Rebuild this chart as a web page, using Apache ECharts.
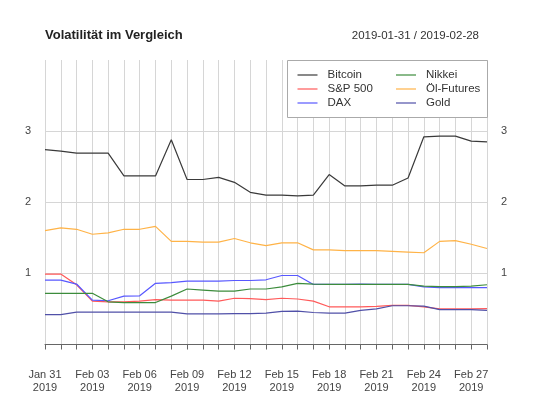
<!DOCTYPE html>
<html>
<head>
<meta charset="utf-8">
<script src="https://cdn.jsdelivr.net/npm/echarts@6/dist/echarts.min.js"></script>
<style>
html,body{margin:0;padding:0;background:#fff;}
#chart{width:533px;height:400px;}
</style>
</head>
<body>
<div id="chart"></div>
<script>
const categories = ['Jan 31','Feb 01','Feb 02','Feb 03','Feb 04','Feb 05','Feb 06','Feb 07','Feb 08','Feb 09',
  'Feb 10','Feb 11','Feb 12','Feb 13','Feb 14','Feb 15','Feb 16','Feb 17','Feb 18','Feb 19',
  'Feb 20','Feb 21','Feb 22','Feb 23','Feb 24','Feb 25','Feb 26','Feb 27','Feb 28'];
const yearLabel = '2019';
const yTicks = [1, 2, 3];

const bitcoin = [2.74,2.72,2.69,2.69,2.69,2.37,2.37,2.37,2.88,2.32,2.32,2.35,2.28,2.14,2.10,2.10,2.09,2.10,2.39,2.23,2.23,2.24,2.24,2.34,2.92,2.93,2.93,2.86,2.85];
const sp500 = [0.99,0.99,0.84,0.61,0.60,0.60,0.61,0.63,0.625,0.625,0.625,0.61,0.65,0.645,0.63,0.65,0.64,0.61,0.53,0.53,0.53,0.535,0.55,0.55,0.53,0.50,0.50,0.50,0.505];
const dax = [0.906,0.906,0.85,0.625,0.615,0.68,0.685,0.86,0.87,0.89,0.89,0.89,0.90,0.90,0.91,0.97,0.97,0.845,0.845,0.845,0.85,0.845,0.845,0.845,0.81,0.80,0.80,0.80,0.80];
const nikkei = [0.72,0.72,0.72,0.72,0.60,0.59,0.59,0.59,0.68,0.78,0.765,0.75,0.75,0.78,0.78,0.81,0.86,0.85,0.845,0.845,0.845,0.845,0.845,0.845,0.82,0.815,0.815,0.82,0.84];
const oil = [1.60,1.64,1.62,1.55,1.57,1.62,1.62,1.66,1.45,1.45,1.44,1.44,1.49,1.43,1.39,1.43,1.43,1.33,1.33,1.32,1.32,1.32,1.31,1.30,1.29,1.45,1.46,1.41,1.35];
const gold = [0.42,0.42,0.455,0.455,0.455,0.455,0.455,0.455,0.455,0.43,0.43,0.43,0.435,0.435,0.44,0.465,0.47,0.45,0.44,0.44,0.48,0.50,0.545,0.545,0.54,0.49,0.49,0.49,0.48];

const FONT = 'Liberation Sans, Arial, Helvetica, sans-serif';
const chart = echarts.init(document.getElementById('chart'));

function mk(name, data, color) {
  return {
    name, type: 'line', data, showSymbol: false, symbol: 'none',
    lineStyle: { color, width: 1.2 }, itemStyle: { color },
    emphasis: { disabled: true }, animation: false
  };
}

const yLabelFmt = v => (yTicks.indexOf(v) >= 0 ? String(v) : '');
const legendText = { fontSize: 11.5, color: '#333', lineHeight: 14, padding: [0,0,0,5], fontFamily: FONT };

chart.setOption({
  animation: false,
  textStyle: { fontFamily: FONT },
  title: [
    { text: 'Volatilität im Vergleich', left: 45, top: 29, padding: 0,
      textStyle: { fontSize: 13, fontWeight: 'bold', color: '#222', fontFamily: FONT } },
    { text: '2019-01-31 / 2019-02-28', right: 54, top: 30, padding: 0,
      textStyle: { fontSize: 11.5, fontWeight: 'normal', color: '#333', fontFamily: FONT } }
  ],
  graphic: [{
    type: 'rect', left: 287, top: 60, z: 5,
    shape: { width: 200, height: 57 },
    style: { fill: '#fff', stroke: '#aaa', lineWidth: 1 }
  }],
  legend: [
    { data: ['Bitcoin','S&P 500','DAX'], orient: 'vertical', left: 297.5, top: 68, z: 10, padding: 0,
      icon: 'rect', itemWidth: 20, itemHeight: 1.2, itemGap: 0,
      textStyle: legendText, selectedMode: false },
    { data: ['Nikkei','Öl-Futures','Gold'], orient: 'vertical', left: 396, top: 68, z: 10, padding: 0,
      icon: 'rect', itemWidth: 20, itemHeight: 1.2, itemGap: 0,
      textStyle: legendText, selectedMode: false }
  ],
  grid: { left: 45, right: 46, top: 60, bottom: 55.5, containLabel: false },
  xAxis: {
    type: 'category', data: categories, boundaryGap: false, offset: 13,
    axisLine: { lineStyle: { color: '#666', width: 1 } },
    axisTick: { show: true, interval: 0, length: 5, lineStyle: { color: '#666' } },
    axisLabel: { interval: 2, margin: 11, fontSize: 11, color: '#444', lineHeight: 13,
      formatter: v => v + '\n' + yearLabel },
    splitLine: { show: true, interval: 0, lineStyle: { color: '#d6d6d6', width: 1 } }
  },
  yAxis: [
    { type: 'value', position: 'left', min: 0, max: 4, interval: 1,
      axisLine: { show: false }, axisTick: { show: false },
      axisLabel: { formatter: yLabelFmt, fontSize: 11, color: '#444', margin: 14 },
      splitLine: { show: true, lineStyle: { color: ['transparent','#d6d6d6','#d6d6d6','#d6d6d6','transparent'], width: 1 } } },
    { type: 'value', position: 'right', min: 0, max: 4, interval: 1,
      axisLine: { show: false }, axisTick: { show: false },
      axisLabel: { formatter: yLabelFmt, fontSize: 11, color: '#444', margin: 14 },
      splitLine: { show: false } }
  ],
  series: [
    mk('Bitcoin', bitcoin, '#3a3a3a'),
    mk('S&P 500', sp500, '#ff5a5a'),
    mk('DAX', dax, '#5858ff'),
    mk('Nikkei', nikkei, '#3c8c3c'),
    mk('Öl-Futures', oil, '#ffb347'),
    mk('Gold', gold, '#5050a8')
  ]
});
</script>
</body>
</html>
